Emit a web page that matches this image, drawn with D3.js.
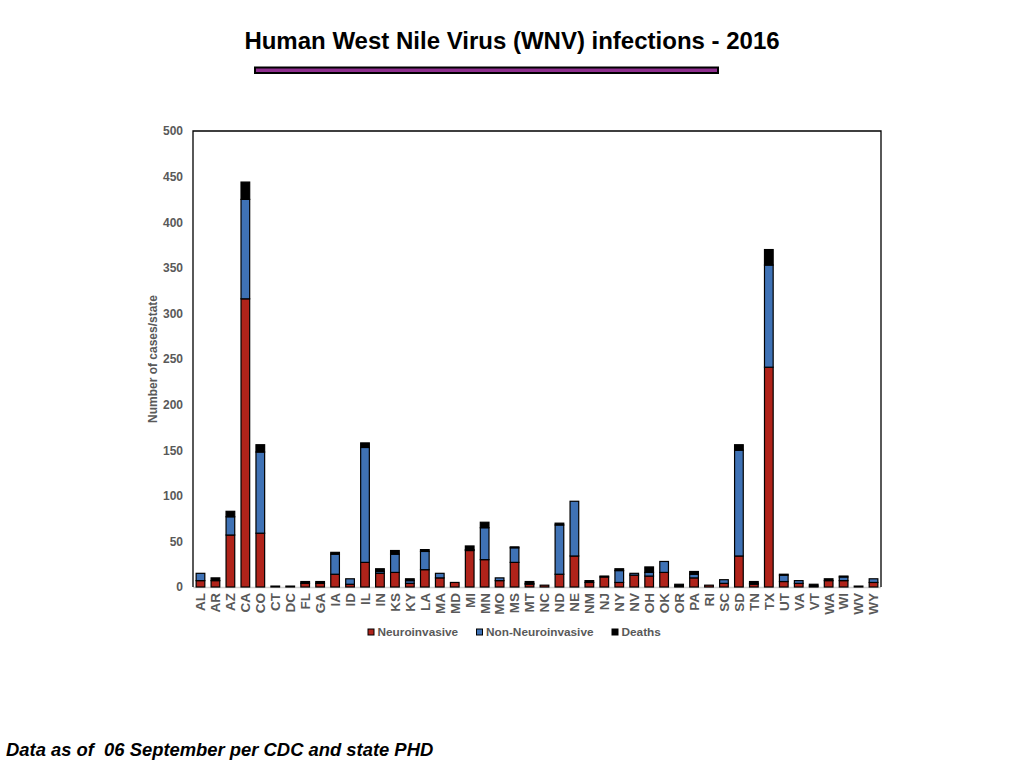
<!DOCTYPE html>
<html>
<head>
<meta charset="utf-8">
<script src="https://cdn.jsdelivr.net/npm/d3@7"></script>
<style>
  html, body { margin: 0; padding: 0; background: #fff; }
  svg { display: block; font-family: "Liberation Sans", Arial, Helvetica, sans-serif; }
</style>
</head>
<body>
<svg id="chart" width="1024" height="768"></svg>
<script>
const states = ["AL","AR","AZ","CA","CO","CT","DC","FL","GA","IA","ID","IL","IN","KS","KY","LA","MA","MD","MI","MN","MO","MS","MT","NC","ND","NE","NM","NJ","NY","NV","OH","OK","OR","PA","RI","SC","SD","TN","TX","UT","VA","VT","WA","WI","WV","WY"];
const neuroinvasive =    [7,7,57,316,59,1,1,4,4,14,3,27,15,16,4,19,10,5,40,30,7,27,3,2,14,34,5,11,5,13,12,16,1,10,2,4,34,3,241,6,4,1,7,7,1,5];
const nonNeuroinvasive = [8,0,20,109,89,0,0,0,0,22,6,126,2,20,3,20,5,0,1,35,3,16,1,0,54,60,0,0,13,2,4,12,0,4,0,4,116,1,112,7,3,0,0,4,0,4];
const deaths =           [0,3,6,19,8,0,0,2,2,2,0,5,3,4,2,2,0,0,4,6,0,1,2,0,2,0,2,1,2,0,6,0,2,3,0,0,6,2,17,1,0,2,2,1,0,0];
const seriesNames = ["Neuroinvasive","Non-Neuroinvasive","Deaths"];
const seriesColors = ["#B0231A","#3F72B5","#000000"];
const yTicks = [0,50,100,150,200,250,300,350,400,450,500];

const svg = d3.select("#chart");
const textGray = "#595959";

// Title
svg.append("text").attr("x", 512).attr("y", 49).attr("text-anchor", "middle")
  .attr("font-size", 24).attr("font-weight", "bold").attr("fill", "#000")
  .text("Human West Nile Virus (WNV) infections - 2016");

// Purple bar
svg.append("rect").attr("x", 255).attr("y", 67.5).attr("width", 463).attr("height", 5.5)
  .attr("fill", "#8E2F8E").attr("stroke", "#000").attr("stroke-width", 2);

const pLeft = 193, pRight = 881, pTop = 131, pBottom = 587;
const x = d3.scaleBand().domain(states).range([pLeft, pRight]).paddingInner(0.42).paddingOuter(0.21);
const y = d3.scaleLinear().domain([0, 500]).range([pBottom, pTop]);

const rows = states.map((s, i) => ({state: s, Neuroinvasive: neuroinvasive[i], "Non-Neuroinvasive": nonNeuroinvasive[i], Deaths: deaths[i]}));
const stacked = d3.stack().keys(seriesNames)(rows);

// bottom baseline (gray)
svg.append("line").attr("x1", pLeft).attr("x2", pRight).attr("y1", pBottom + 0.5).attr("y2", pBottom + 0.5)
  .attr("stroke", "#d0d0d0").attr("stroke-width", 1.5);

// Bars
stacked.forEach((layer, li) => {
  svg.append("g").selectAll("rect")
    .data(layer.filter(d => d[1] - d[0] > 0))
    .join("rect")
    .attr("x", d => x(d.data.state))
    .attr("width", x.bandwidth())
    .attr("y", d => y(d[1]))
    .attr("height", d => y(d[0]) - y(d[1]))
    .attr("fill", seriesColors[li])
    .attr("stroke", "#000")
    .attr("stroke-width", 1.2);
});

// Frame (left, top, right)
svg.append("path").attr("d", `M${pLeft},${pBottom}V${pTop}H${pRight}V${pBottom}`)
  .attr("fill", "none").attr("stroke", "#000").attr("stroke-width", 1.3);

// Y axis
const yAxis = d3.axisLeft(y).tickValues(yTicks).tickSize(0).tickPadding(10);
const yg = svg.append("g").attr("transform", `translate(${pLeft},0)`).call(yAxis);
yg.select(".domain").remove();
yg.selectAll("text").attr("font-size", 12).attr("font-weight", "bold").attr("fill", textGray)
  .attr("font-family", "Liberation Sans, Arial, sans-serif");

// X axis
const xAxis = d3.axisBottom(x).tickSize(0).tickPadding(0);
const xg = svg.append("g").attr("transform", `translate(0,${pBottom})`).call(xAxis);
xg.select(".domain").remove();
xg.selectAll("text")
  .attr("font-size", 13.5).attr("font-weight", "bold").attr("fill", textGray)
  .attr("font-family", "Liberation Sans, Arial, sans-serif")
  .attr("text-anchor", "end")
  .attr("transform", "rotate(-90)")
  .attr("x", -6).attr("y", 0).attr("dy", "0.36em");

// Y axis title
svg.append("text").attr("transform", `translate(157,${(pTop + pBottom) / 2}) rotate(-90)`)
  .attr("text-anchor", "middle").attr("font-size", 12).attr("font-weight", "bold").attr("fill", textGray)
  .text("Number of cases/state");

// Legend
const legendItems = [
  {name: seriesNames[0], color: seriesColors[0], x: 368},
  {name: seriesNames[1], color: seriesColors[1], x: 476.5},
  {name: seriesNames[2], color: seriesColors[2], x: 612}
];
const lg = svg.append("g");
legendItems.forEach(it => {
  lg.append("rect").attr("x", it.x).attr("y", 629).attr("width", 6).attr("height", 6)
    .attr("fill", it.color).attr("stroke", "#000").attr("stroke-width", 1);
  lg.append("text").attr("x", it.x + 9.5).attr("y", 636)
    .attr("font-size", 11.8).attr("font-weight", "bold").attr("fill", textGray).text(it.name);
});

// Footnote
svg.append("text").attr("x", 6).attr("y", 756).attr("font-size", 18.4).attr("font-weight", "bold")
  .attr("font-style", "italic").attr("fill", "#000").style("white-space", "pre")
  .text("Data as of  06 September per CDC and state PHD");
</script>
</body>
</html>
